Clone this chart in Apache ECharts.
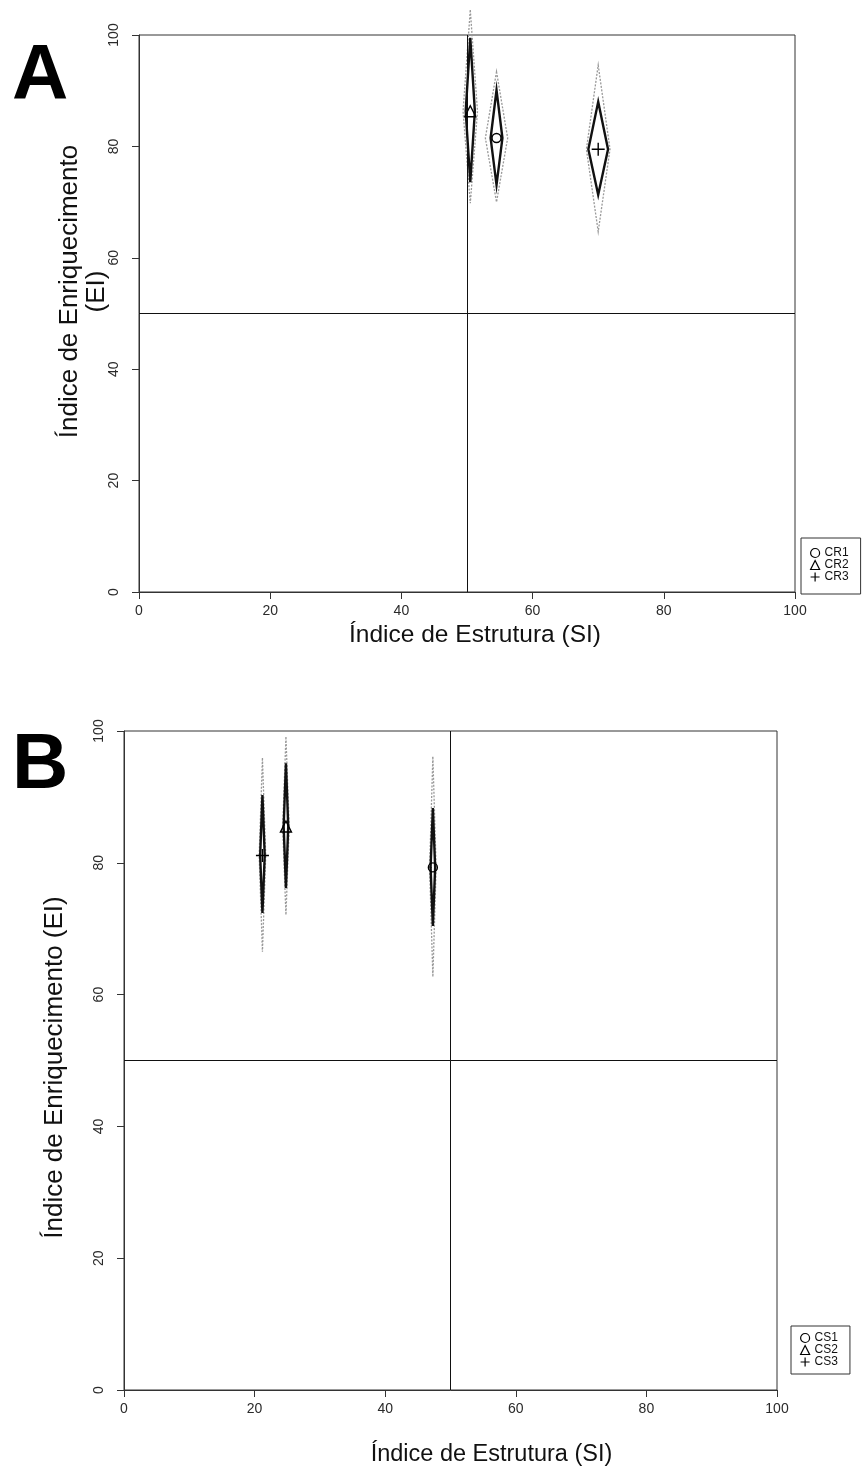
<!DOCTYPE html>
<html><head><meta charset="utf-8">
<script src="https://cdn.jsdelivr.net/npm/echarts@6/dist/echarts.min.js"></script>
<style>html,body{margin:0;padding:0;background:#fff}#c{width:864px;height:1481px}</style>
</head><body><div id="c"></div>
<script>
// ---- data ----
const axisTicks = [0, 20, 40, 60, 80, 100];
const threshold = [50];
const panelLetters = ['A', 'B'];
const xTitle = 'Índice de Estrutura (SI)';
const yTitleA = 'Índice de Enriquecimento\n(EI)';
const yTitleB = 'Índice de Enriquecimento (EI)';

// Panel A
const groupsA = ['CR1', 'CR2', 'CR3'];
const siA = [54.5, 50.5, 70.0];
const eiA = [81.5, 86.3, 79.5];
const siInnerLoA = [53.6, 49.8, 68.5];
const siInnerHiA = [55.4, 51.2, 71.5];
const eiInnerLoA = [73.1, 73.6, 71.3];
const eiInnerHiA = [90.1, 99.5, 88.0];
const siOuterLoA = [52.8, 49.4, 68.2];
const siOuterHiA = [56.2, 51.6, 71.8];
const eiOuterLoA = [70.0, 69.8, 64.7];
const eiOuterHiA = [93.4, 104.5, 94.6];

// Panel B
const groupsB = ['CS1', 'CS2', 'CS3'];
const siB = [47.3, 24.8, 21.2];
const eiB = [79.3, 85.5, 81.1];
const siInnerLoB = [46.95, 24.45, 20.85];
const siInnerHiB = [47.65, 25.15, 21.55];
const eiInnerLoB = [70.4, 76.2, 72.4];
const eiInnerHiB = [88.3, 95.1, 90.3];
const siOuterLoB = [46.8, 24.3, 20.7];
const siOuterHiB = [47.8, 25.3, 21.7];
const eiOuterLoB = [62.7, 72.1, 66.5];
const eiOuterHiB = [96.1, 99.1, 95.9];

// ---- styles ----
const FONT = 'Liberation Sans, Arial, sans-serif';
const plusPath = 'path://M5,0L5,10M0,5L10,5';
const markerSymbols = ['circle', 'triangle', plusPath];
const markerSizes = [9, 11, 13];

function diamond(idx, si, ei, sLo, sHi, eLo, eHi, stroke, width, dash, z) {
  const data = si.map((v, i) => [v, ei[i], sLo[i], sHi[i], eLo[i], eHi[i]]);
  return {
    type: 'custom', xAxisIndex: idx, yAxisIndex: idx, clip: false, silent: true, z: z,
    data: data,
    encode: { x: 0, y: 1 },
    renderItem: function (params, api) {
      const x = api.value(0), y = api.value(1);
      const top = api.coord([x, api.value(5)]);
      const bot = api.coord([x, api.value(4)]);
      const l = api.coord([api.value(2), y]);
      const r = api.coord([api.value(3), y]);
      return {
        type: 'polygon',
        shape: { points: [top, r, bot, l] },
        style: { fill: 'none', stroke: stroke, lineWidth: width, lineDash: dash }
      };
    }
  };
}

function markers(idx, groups, si, ei) {
  return groups.map((g, i) => ({
    type: 'scatter', name: g, xAxisIndex: idx, yAxisIndex: idx, z: 10,
    symbol: markerSymbols[i], symbolSize: markerSizes[i],
    itemStyle: { color: 'rgba(0,0,0,0)', borderColor: '#000', borderWidth: 1.4, opacity: 1 },
    data: [[si[i], ei[i]]]
  }));
}

function refLines(idx) {
  return {
    type: 'scatter', xAxisIndex: idx, yAxisIndex: idx, data: [], silent: true, z: 1,
    markLine: {
      silent: true, symbol: 'none', animation: false,
      label: { show: false },
      lineStyle: { color: '#111', width: 1, type: 'solid' },
      data: [{ xAxis: threshold[0] }, { yAxis: threshold[0] }]
    }
  };
}

function xAx(idx, gap, pad, fs) {
  return {
    gridIndex: idx, type: 'value', min: axisTicks[0], max: axisTicks[axisTicks.length - 1], interval: 20,
    name: xTitle, nameLocation: 'middle', nameGap: gap, nameMoveOverlap: false,
    nameTextStyle: { fontSize: fs, color: '#111', fontFamily: FONT, padding: pad },
    axisLine: { show: true, lineStyle: { color: '#333', width: 1 } },
    axisTick: { show: true, length: 7, lineStyle: { color: '#333' } },
    axisLabel: { fontSize: 14, color: '#2a2a2a', margin: 12, fontFamily: FONT },
    splitLine: { show: false }
  };
}
function yAx(idx, name, gap, pad) {
  return {
    gridIndex: idx, type: 'value', min: axisTicks[0], max: axisTicks[axisTicks.length - 1], interval: 20,
    name: name, nameLocation: 'middle', nameGap: gap, nameRotate: 90, nameMoveOverlap: false,
    nameTextStyle: { fontSize: 26, color: '#111', fontFamily: FONT, lineHeight: 27, padding: pad },
    axisLine: { show: true, lineStyle: { color: '#333', width: 1 } },
    axisTick: { show: true, length: 7, lineStyle: { color: '#333' } },
    axisLabel: { fontSize: 14, color: '#2a2a2a', margin: 18, rotate: 90, fontFamily: FONT },
    splitLine: { show: false }
  };
}

function legendFor(groups, left, top, pad) {
  return {
    orient: 'vertical', left: left, top: top,
    data: groups.map((g, i) => ({ name: g, icon: markerSymbols[i] })),
    itemWidth: 9, itemHeight: 9, itemGap: 0,
    padding: pad,
    borderColor: '#333', borderWidth: 1, backgroundColor: '#fff',
    selectedMode: false,
    itemStyle: { color: 'rgba(0,0,0,0)', borderColor: '#000', borderWidth: 1.2 },
    textStyle: { fontSize: 12, color: '#111', fontFamily: FONT, lineHeight: 11 }
  };
}

const chart = echarts.init(document.getElementById('c'), null, { renderer: 'canvas' });
chart.setOption({
  animation: false,
  backgroundColor: '#fff',
  textStyle: { fontFamily: FONT },
  grid: [
    { left: 139, top: 35, width: 656, height: 557, show: true, borderColor: '#333', borderWidth: 1, backgroundColor: 'rgba(0,0,0,0)' },
    { left: 124, top: 731, width: 653, height: 659, show: true, borderColor: '#333', borderWidth: 1, backgroundColor: 'rgba(0,0,0,0)' }
  ],
  xAxis: [xAx(0, 31, [0, 0, 0, 16], 24.5), xAx(1, 53, [0, 0, 0, 82], 23.5)],
  yAxis: [yAx(0, yTitleA, 29, [0, 0, 0, 44]), yAx(1, yTitleB, 56, [0, 14, 0, 0])],
  legend: [legendFor(groupsA, 801, 538, [9, 12, 11, 9]), legendFor(groupsB, 791, 1326, [6, 12, 6, 9])],
  graphic: [
    { type: 'text', left: 12, top: 38, style: { text: panelLetters[0], font: 'bold 78px ' + FONT, fill: '#000' } },
    { type: 'text', left: 12, top: 727, style: { text: panelLetters[1], font: 'bold 78px ' + FONT, fill: '#000' } }
  ],
  series: [
    refLines(0), refLines(1),
    diamond(0, siA, eiA, siOuterLoA, siOuterHiA, eiOuterLoA, eiOuterHiA, '#999', 1.3, [2, 1.5], 4),
    diamond(0, siA, eiA, siInnerLoA, siInnerHiA, eiInnerLoA, eiInnerHiA, '#111', 2.4, null, 5),
    diamond(1, siB, eiB, siOuterLoB, siOuterHiB, eiOuterLoB, eiOuterHiB, '#999', 1.3, [2, 1.5], 4),
    diamond(1, siB, eiB, siInnerLoB, siInnerHiB, eiInnerLoB, eiInnerHiB, '#111', 2.4, null, 5)
  ].concat(markers(0, groupsA, siA, eiA), markers(1, groupsB, siB, eiB))
});
</script>
</body></html>
